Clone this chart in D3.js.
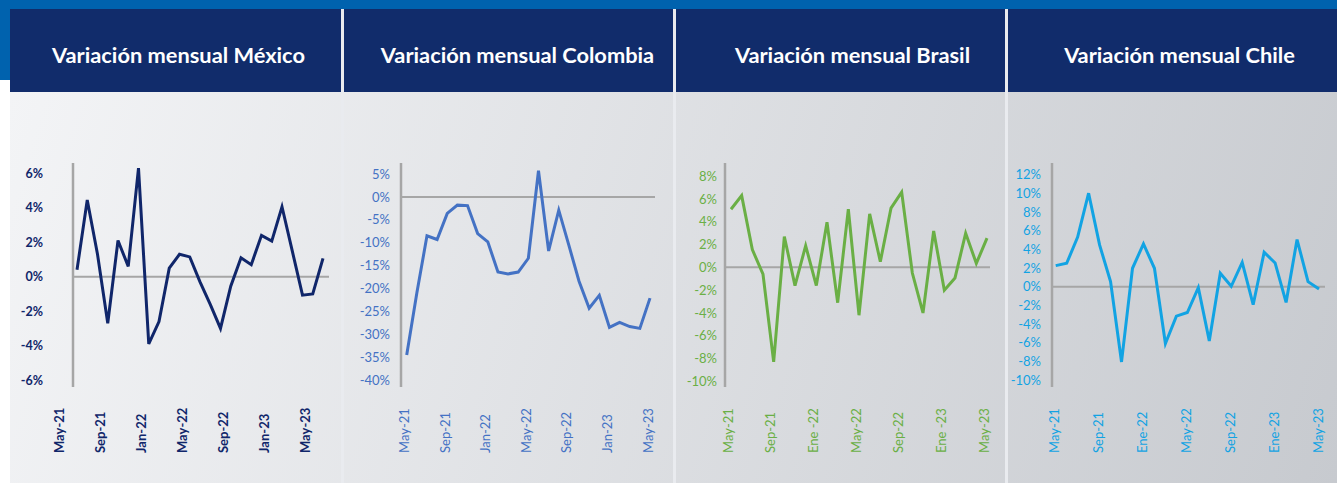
<!DOCTYPE html>
<html><head><meta charset="utf-8">
<script src="https://cdn.jsdelivr.net/npm/d3@7"></script>
<style>html,body{margin:0;padding:0;background:#fff;}svg{display:block;}</style>
</head><body>
<svg id="chart" width="1337" height="483"></svg>
<script>
// ---- data ----
const months = ["May-21","Jun-21","Jul-21","Ago-21","Sep-21","Oct-21","Nov-21","Dic-21","Ene-22","Feb-22","Mar-22","Abr-22","May-22","Jun-22","Jul-22","Ago-22","Sep-22","Oct-22","Nov-22","Dic-22","Ene-23","Feb-23","Mar-23","Abr-23","May-23"];
const titles = ["Variación mensual México","Variación mensual Colombia","Variación mensual Brasil","Variación mensual Chile"];
const mexico   = [0.4,4.45,1.3,-2.7,2.1,0.6,6.3,-3.9,-2.6,0.5,1.3,1.15,-0.3,-1.6,-3.0,-0.55,1.1,0.7,2.4,2.07,4.06,1.5,-1.07,-1.0,1.06];
const colombia = [-34.5,-21.0,-8.5,-9.3,-3.6,-1.8,-1.9,-8.0,-9.8,-16.4,-16.8,-16.4,-13.4,5.7,-11.8,-2.9,-10.6,-18.4,-24.3,-21.5,-28.5,-27.4,-28.3,-28.7,-22.1];
const brasil   = [5.1,6.3,1.56,-0.6,-8.3,2.7,-1.6,1.9,-1.6,3.96,-3.1,5.1,-4.2,4.7,0.5,5.2,6.6,-0.5,-4.0,3.2,-2.0,-0.93,3.0,0.35,2.56];
const chile    = [2.25,2.5,5.3,10.0,4.47,0.54,-8.05,1.97,4.58,1.97,-6.08,-3.15,-2.76,-0.1,-5.8,1.43,0.04,2.6,-1.93,3.68,2.54,-1.68,5.04,0.54,-0.25];
const ticksMexico   = [-6,-4,-2,0,2,4,6];
const ticksColombia = [-40,-35,-30,-25,-20,-15,-10,-5,0,5];
const ticksBrasil   = [-10,-8,-6,-4,-2,0,2,4,6,8];
const ticksChile    = [-10,-8,-6,-4,-2,0,2,4,6,8,10,12];
const xLabelsMexico   = ["May-21","Sep-21","Jan-22","May-22","Sep-22","Jan-23","May-23"];
const xLabelsColombia = ["May-21","Sep-21","Jan-22","May-22","Sep-22","Jan-23","May-23"];
const xLabelsBrasil   = ["May-21","Sep-21","Ene -22","May-22","Sep-22","Ene -23","May-23"];
const xLabelsChile    = ["May-21","Sep-21","Ene-22","May-22","Sep-22","Ene-23","May-23"];

// ---- layout / style ----
const panels = [
  {title:titles[0], values:mexico,   ticks:ticksMexico,   xl:xLabelsMexico,   color:"#10266A", weight:700,
   axisX:73,  x0:77,    x1:323,  zeroEnd:329,  dom:[-6.4,6.6],    labRight:43,   labOff:-18, titleX:178.5},
  {title:titles[1], values:colombia, ticks:ticksColombia, xl:xLabelsColombia, color:"#4472C4", weight:400,
   axisX:401, x0:406.7, x1:650,  zeroEnd:655,  dom:[-41.5,7.4],   labRight:390,  labOff:-2,  titleX:517.5},
  {title:titles[2], values:brasil,   ticks:ticksBrasil,   xl:xLabelsBrasil,   color:"#6AAF45", weight:400,
   axisX:725, x0:731,   x1:987,  zeroEnd:990,  dom:[-10.5,9.16],  labRight:717,  labOff:-3,  titleX:852.5},
  {title:titles[3], values:chile,    ticks:ticksChile,    xl:xLabelsChile,    color:"#12A3E3", weight:400,
   axisX:1052,x0:1055.7,x1:1319, zeroEnd:1325, dom:[-10.73,13.23],labRight:1041, labOff:-1,  titleX:1179.5}
];
const yTop = 163, yBot = 387;

const svg = d3.select("#chart");
const defs = svg.append("defs");
const grad = defs.append("linearGradient").attr("id","bg").attr("gradientUnits","userSpaceOnUse")
  .attr("x1",10).attr("y1",92).attr("x2",1337).attr("y2",483);
grad.append("stop").attr("offset",0).attr("stop-color","#F3F4F6");
grad.append("stop").attr("offset",1).attr("stop-color","#C7CACF");

// background pieces
svg.append("rect").attr("x",0).attr("y",0).attr("width",1337).attr("height",483).attr("fill","#ffffff");
svg.append("rect").attr("x",10).attr("y",92).attr("width",1327).attr("height",391).attr("fill","url(#bg)");
svg.append("rect").attr("x",0).attr("y",0).attr("width",1337).attr("height",9).attr("fill","#0062AE");
svg.append("rect").attr("x",0).attr("y",0).attr("width",10).attr("height",80).attr("fill","#0062AE");
svg.append("rect").attr("x",10).attr("y",9).attr("width",1327).attr("height",83).attr("fill","#112C6B");
[341,673,1005].forEach(x=>{
  svg.append("rect").attr("x",x).attr("y",9).attr("width",3).attr("height",474).attr("fill","#E9EBEF");
});

// titles
const tg = svg.append("g");
const tt = tg.selectAll("text").data(panels).join("text")
  .attr("x",d=>d.titleX).attr("y",63).attr("text-anchor","middle")
  .attr("fill","#ffffff").attr("font-family","Lato, 'Open Sans', sans-serif").attr("font-weight",700)
  .attr("font-size",22).text(d=>d.title);
const w0 = tt.nodes()[0].getComputedTextLength();
const fs = 22*253/w0;
tt.attr("font-size",fs.toFixed(2));

panels.forEach(p=>{
  const g = svg.append("g");
  const x = d3.scalePoint().domain(months).range([p.x0,p.x1]);
  const y = d3.scaleLinear().domain(p.dom).range([yBot,yTop]);

  // y axis (labels only, custom line)
  const ax = d3.axisLeft(y).tickValues(p.ticks).tickSize(0).tickPadding(0).tickFormat(d=>d+"%");
  const ag = g.append("g").attr("transform",`translate(${p.labRight},0)`).call(ax);
  ag.select(".domain").remove();
  ag.selectAll("text").attr("fill",p.color).attr("font-family","Lato, 'Open Sans', sans-serif")
    .attr("font-size",p.weight===700?12.5:13).attr("font-weight",p.weight);

  // axis line & zero line
  g.append("line").attr("x1",p.axisX).attr("x2",p.axisX).attr("y1",yTop).attr("y2",yBot)
    .attr("stroke","#A6A6A6").attr("stroke-width",2.5);
  g.append("line").attr("x1",p.axisX).attr("x2",p.zeroEnd).attr("y1",y(0)).attr("y2",y(0))
    .attr("stroke","#A6A6A6").attr("stroke-width",2);

  // series line
  const line = d3.line().x((d,i)=>x(months[i])).y(d=>y(d));
  g.append("path").datum(p.values).attr("d",line).attr("fill","none")
    .attr("stroke",p.color).attr("stroke-width",3).attr("stroke-linejoin","miter");

  // x labels
  const tickMonths = months.filter((d,i)=>i%4===0);
  g.selectAll("text.xl").data(tickMonths).join("text").attr("class","xl")
    .attr("transform",d=>`translate(${x(d)+p.labOff},453) rotate(-90)`)
    .attr("text-anchor","start").attr("dy","0.35em")
    .attr("fill",p.color).attr("font-family","Lato, 'Open Sans', sans-serif")
    .attr("font-size",13).attr("font-weight",p.weight)
    .text((d,i)=>p.xl[i]);
});
</script>
</body></html>
